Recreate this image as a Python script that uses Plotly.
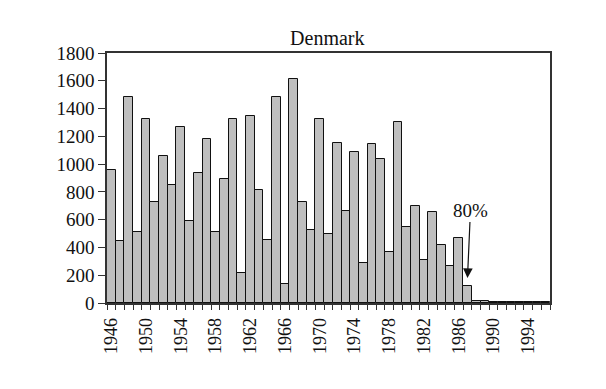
import plotly.graph_objects as go

years = list(range(1946, 1997))
values = [955, 450, 1480, 510, 1325, 725, 1060, 850, 1265, 590,
          935, 1180, 510, 895, 1325, 215, 1350, 815, 455, 1485,
          135, 1615, 725, 525, 1325, 500, 1150, 665, 1090, 285,
          1145, 1035, 370, 1305, 545, 700, 310, 655, 420, 265,
          465, 125, 15, 12, 6, 5, 5, 5, 5, 5, 5]
tick_years = list(range(1946, 1995, 4))
title_text = "Denmark"
note_text = "80%"
note_year = 1987
note_tip = 180

font_family = "Liberation Serif, Times New Roman, serif"

fig = go.Figure()
fig.add_trace(go.Bar(
    x=years, y=values, width=1,
    marker=dict(color="#bfbfbf", line=dict(color="#111111", width=1)),
))

fig.add_annotation(
    x=note_year, y=note_tip, text=note_text, showarrow=True,
    ax=3, ay=-68, arrowhead=2, arrowsize=1.6, arrowwidth=1.2,
    arrowcolor="#111111", font=dict(family=font_family, size=19, color="#111111"),
)

fig.update_layout(
    width=598, height=381,
    margin=dict(l=99, r=56, t=45, b=86),
    paper_bgcolor="white", plot_bgcolor="white",
    bargap=0, showlegend=False,
    font=dict(family=font_family, size=18, color="#111111"),
    title=dict(text=title_text, x=0.534, xanchor="center", y=0.921, yanchor="middle",
               font=dict(family=font_family, size=20, color="#111111")),
)

fig.update_xaxes(
    range=[1945.5, 1996.5], tickvals=tick_years, ticktext=[str(t) for t in tick_years],
    tickangle=-90, ticks="outside", ticklen=0, showgrid=False, zeroline=False,
    ticklabelstandoff=6,
    showline=True, linecolor="#333333", linewidth=1.5, mirror=True,
    tickfont=dict(family=font_family, size=18, color="#111111"),
    minor=dict(tick0=1945.5, dtick=1, ticks="outside", ticklen=5, tickcolor="#333333",
               tickwidth=1, showgrid=False),
)
fig.update_yaxes(
    range=[0, 1800], dtick=200, ticks="outside", ticklen=7, tickcolor="#333333",
    showgrid=False, zeroline=False, showline=True, linecolor="#333333", linewidth=1.5,
    mirror=True, tickfont=dict(family=font_family, size=19, color="#111111"),
)

fig.write_html("out.html")
